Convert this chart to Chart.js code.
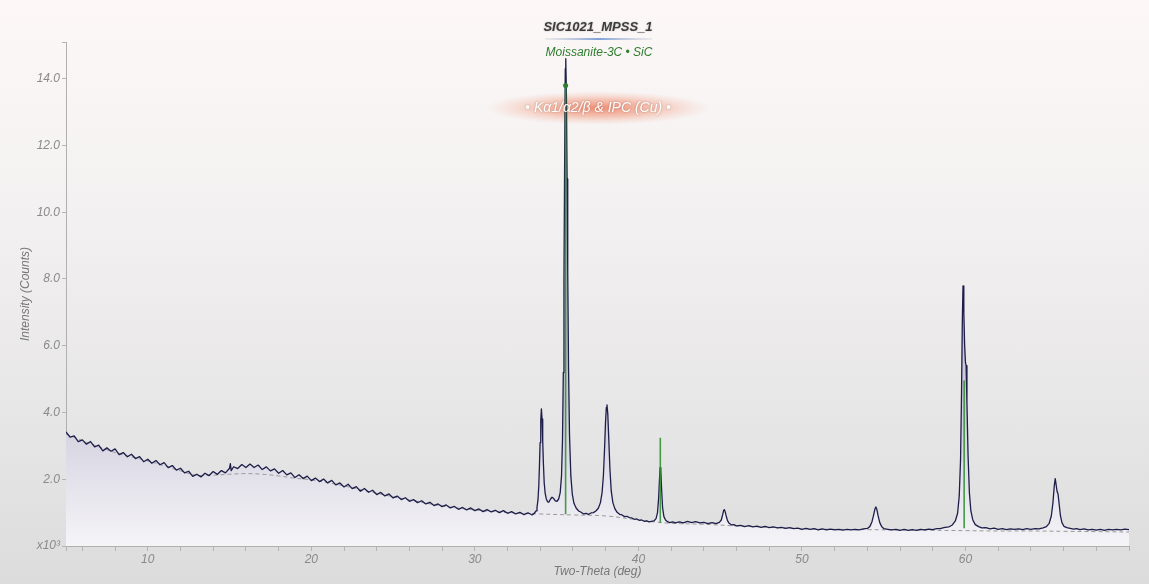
<!DOCTYPE html>
<html>
<head>
<meta charset="utf-8">
<script src="https://cdn.jsdelivr.net/npm/chart.js@4.4.0/dist/chart.umd.min.js"></script>
<style>
html, body { margin: 0; padding: 0; width: 1149px; height: 584px; overflow: hidden; }
body { background: linear-gradient(to bottom, #fdf8f7 0%, #f3f1f1 35%, #e6e5e5 75%, #dcdcdc 100%); }
#wrap { position: relative; width: 1149px; height: 584px; }
</style>
</head>
<body>
<div id="wrap"><canvas id="xrd" width="1149" height="584"></canvas></div>
<script>
const chartTitle = 'SIC1021_MPSS_1';
const phaseLabel = 'Moissanite-3C \u2022 SiC';
const sourceLabel = '\u2022 K\u03b11/\u03b12/\u03b2 & IPC (Cu) \u2022';

// measured pattern, [two-theta (deg), counts]
const observed = [
  [5.00,3420],[5.25,3260],[5.50,3300],[5.75,3130],[6.00,3180],[6.25,3050],[6.50,3130],[6.75,2970],
  [7.00,3020],[7.25,2850],[7.50,2940],[7.75,2840],[8.00,2910],[8.25,2740],[8.50,2800],[8.75,2675],
  [9.00,2750],[9.25,2620],[9.50,2680],[9.75,2525],[10.00,2600],[10.25,2480],[10.50,2560],[10.75,2435],
  [11.00,2500],[11.25,2350],[11.50,2410],[11.75,2275],[12.00,2330],[12.25,2190],[12.50,2240],[12.75,2085],
  [13.00,2150],[13.25,2070],[13.50,2180],[13.75,2110],[14.00,2230],[14.25,2145],[14.50,2260],[14.75,2190],
  [15.00,2330],[15.05,2470],[15.10,2260],[15.25,2375],[15.50,2320],[15.75,2440],[16.00,2350],[16.25,2455],
  [16.50,2350],[16.75,2425],[17.00,2290],[17.25,2370],[17.50,2250],[17.75,2310],[18.00,2180],[18.25,2260],
  [18.50,2130],[18.75,2190],[19.00,2050],[19.25,2135],[19.50,2020],[19.75,2095],[20.00,1960],[20.25,2035],
  [20.50,1930],[20.75,2005],[21.00,1890],[21.25,1965],[21.50,1830],[21.75,1890],[22.00,1770],[22.25,1850],
  [22.50,1720],[22.75,1780],[23.00,1640],[23.25,1725],[23.50,1610],[23.75,1670],[24.00,1540],[24.25,1605],
  [24.50,1500],[24.75,1560],[25.00,1440],[25.25,1495],[25.50,1390],[25.75,1445],[26.00,1340],[26.25,1390],
  [26.50,1300],[26.75,1355],[27.00,1260],[27.25,1310],[27.50,1210],[27.75,1260],[28.00,1180],[28.25,1230],
  [28.50,1140],[28.75,1185],[29.00,1100],[29.25,1155],[29.50,1080],[29.75,1140],[30.00,1060],[30.25,1110],
  [30.50,1030],[30.75,1090],[31.00,1020],[31.25,1070],[31.50,1000],[31.75,1060],[32.00,980],[32.25,1030],
  [32.50,960],[32.75,1010],[33.00,940],[33.25,995],[33.50,930],[33.65,985],[33.74,1050],[33.80,1150],
  [33.86,1380],[33.91,1800],[33.95,2400],[33.99,3100],[34.03,3750],[34.07,4110],[34.11,3800],[34.15,3150],
  [34.19,2500],[34.24,1900],[34.30,1580],[34.37,1410],[34.44,1330],[34.52,1310],[34.62,1400],[34.72,1460],
  [34.82,1420],[34.92,1350],[35.02,1340],[35.12,1400],[35.22,1600],[35.30,2100],[35.36,3200],[35.41,5200],
  [35.45,8000],[35.49,11500],[35.53,14300],[35.56,14600],[35.60,13500],[35.64,11000],[35.68,8200],[35.73,5300],
  [35.79,3300],[35.87,2100],[35.96,1550],[36.06,1280],[36.20,1130],
  [36.35,1050],[36.50,1010],[36.65,960],[36.80,980],[36.95,945],[37.10,990],[37.25,1000],[37.40,1050],
  [37.55,1130],[37.68,1300],[37.78,1600],[37.86,2100],[37.93,2900],[37.99,3700],[38.04,4150],[38.08,4230],
  [38.13,3950],[38.19,3200],[38.26,2300],[38.34,1650],[38.44,1300],[38.56,1120],[38.70,1010],[38.85,950],
  [39.00,930],[39.15,880],[39.30,890],[39.45,850],[39.60,840],[39.75,800],[39.90,810],[40.05,770],
  [40.20,780],[40.35,740],[40.50,750],[40.65,720],[40.80,740],[40.95,750],[41.08,820],[41.17,1000],
  [41.24,1450],[41.29,2000],[41.33,2350],[41.37,2250],[41.42,1700],[41.48,1150],[41.56,880],[41.66,780],
  [41.78,730],[41.92,700],[42.10,720],[42.25,690],[42.50,720],[42.75,690],[43.00,740],[43.25,700],
  [43.50,730],[43.75,690],[44.00,710],[44.25,670],[44.50,700],[44.75,670],[44.95,710],[45.07,780],
  [45.15,930],[45.21,1060],[45.25,1090],[45.30,1040],[45.37,900],[45.45,760],[45.55,680],[45.70,630],
  [45.85,640],[46.00,600],[46.25,620],[46.50,580],[46.75,610],[47.00,575],[47.25,595],[47.50,560],
  [47.75,585],[48.00,550],[48.25,575],[48.50,545],[48.75,560],[49.00,530],[49.25,550],[49.50,520],
  [49.75,535],[50.00,495],[50.25,525],[50.50,495],[50.75,520],[51.00,485],[51.25,510],[51.50,480],
  [51.75,505],[52.00,485],[52.25,500],[52.50,475],[52.75,500],[53.00,480],[53.25,495],[53.50,485],
  [53.75,510],[54.00,525],[54.15,580],[54.28,720],[54.38,920],[54.46,1100],[54.52,1170],[54.58,1100],
  [54.66,900],[54.76,700],[54.88,580],[55.02,520],[55.25,500],[55.50,480],[55.75,500],[56.00,470],
  [56.25,495],[56.50,470],[56.75,490],[57.00,470],[57.25,500],[57.50,480],[57.75,505],[58.00,490],
  [58.25,520],[58.50,525],[58.75,560],[59.00,575],[59.20,630],[59.38,750],[59.52,980],[59.62,1500],
  [59.70,2600],[59.76,4600],[59.81,6800],[59.85,7790],[59.90,7000],[59.95,6000],[60.00,5500],[60.04,5400],
  [60.09,4300],[60.16,2700],[60.24,1600],[60.33,1050],[60.45,780],[60.60,640],[60.80,580],[61.00,545],
  [61.25,550],[61.50,515],[61.75,535],[62.00,500],[62.25,520],[62.50,490],[62.75,515],[63.00,495],
  [63.25,515],[63.50,490],[63.75,520],[64.00,500],[64.25,520],[64.50,515],[64.75,545],[64.95,580],
  [65.12,680],[65.25,900],[65.35,1300],[65.43,1800],[65.49,2020],[65.54,1850],[65.60,1640],[65.66,1560],
  [65.73,1250],[65.81,900],[65.90,700],[66.02,590],[66.20,550],[66.40,530],[66.60,505],[66.80,520],
  [67.00,490],[67.25,510],[67.50,480],[67.75,500],[68.00,475],[68.25,495],[68.50,470],[68.75,495],
  [69.00,480],[69.25,500],[69.50,485],[69.75,505],[70.00,490]
];

// fitted background, [two-theta, counts]
const background = [
  [5,3350],[8,2800],[10,2550],[12,2250],[13,2120],[14,2120],[15,2150],[16,2170],[17,2150],[18,2100],
  [19,2030],[20,1980],[22,1800],[24,1580],[26,1380],[28,1200],[30,1080],[32,1000],[34,960],[36,930],
  [38,900],[40,780],[41,720],[42,680],[44,650],[46,600],[48,560],[50,520],[52,500],[54,490],[56,480],
  [58,470],[60,460],[62,450],[64,450],[66,440],[68,430],[70,420]
];

// Moissanite-3C reference sticks: [two-theta, base counts, top counts]
const refSticks = [
  [35.55, 950, 13800],
  [41.34, 700, 3240],
  [59.92, 530, 4960]
];

const yTicks = [0, 2000, 4000, 6000, 8000, 10000, 12000, 14000];
const xLabels = [10, 20, 30, 40, 50, 60];
const yTop = 15100;

const stickPoints = [];
refSticks.forEach(function (s) {
  stickPoints.push({ x: s[0], y: s[1] }, { x: s[0], y: s[2] }, { x: s[0], y: null });
});

const overlay = {
  id: 'overlay',
  beforeDatasetsDraw(chart) {
    const ctx = chart.ctx;
    ctx.save();
    ctx.translate(598, 108);
    ctx.scale(1, 0.15);
    const g = ctx.createRadialGradient(0, 0, 0, 0, 0, 112);
    g.addColorStop(0, 'rgba(236,115,85,0.8)');
    g.addColorStop(0.5, 'rgba(240,145,115,0.5)');
    g.addColorStop(1, 'rgba(245,180,160,0)');
    ctx.fillStyle = g;
    ctx.beginPath();
    ctx.arc(0, 0, 112, 0, Math.PI * 2);
    ctx.fill();
    ctx.restore();
  },
  afterDraw(chart) {
    const ctx = chart.ctx;
    ctx.save();
    ctx.textAlign = 'center';
    ctx.textBaseline = 'middle';
    ctx.font = 'italic bold 13px "Liberation Sans", Arial, sans-serif';
    ctx.shadowColor = 'rgba(0,0,0,0.25)';
    ctx.shadowBlur = 2;
    ctx.fillStyle = '#3c3c3c';
    ctx.fillText(chartTitle, 598, 27);
    ctx.shadowBlur = 0;
    const u = ctx.createLinearGradient(545, 0, 652, 0);
    u.addColorStop(0, 'rgba(150,160,180,0.2)');
    u.addColorStop(0.5, 'rgba(70,120,200,0.9)');
    u.addColorStop(1, 'rgba(150,160,180,0.2)');
    ctx.strokeStyle = u;
    ctx.lineWidth = 1.5;
    ctx.beginPath();
    ctx.moveTo(545, 39);
    ctx.lineTo(652, 39);
    ctx.stroke();
    ctx.font = 'italic 12px "Liberation Sans", Arial, sans-serif';
    ctx.fillStyle = '#2f7d2f';
    ctx.fillText(phaseLabel, 599, 53);
    ctx.font = 'italic 14px "Liberation Sans", Arial, sans-serif';
    ctx.shadowColor = 'rgba(120,60,40,0.5)';
    ctx.shadowBlur = 2;
    ctx.fillStyle = '#ffffff';
    ctx.fillText(sourceLabel, 598, 108);
    ctx.restore();
  }
};

const labelFont = { family: '"Liberation Sans", Arial, sans-serif', size: 12, style: 'italic' };

const chart = new Chart(document.getElementById('xrd').getContext('2d'), {
  type: 'line',
  data: {
    datasets: [
      {
        label: 'Moissanite-3C',
        data: stickPoints,
        order: 0,
        borderColor: 'rgba(50,145,50,0.9)',
        borderWidth: 1.6,
        spanGaps: false,
        fill: false,
        pointRadius: function (c) { return c.dataIndex === 1 ? 2.5 : 0; },
        pointBackgroundColor: '#2f7d2f',
        pointBorderWidth: 0
      },
      {
        label: chartTitle,
        data: observed.map(function (p) { return { x: p[0], y: p[1] }; }),
        order: 1,
        borderColor: '#1d1d4a',
        borderWidth: 1.3,
        borderJoinStyle: 'round',
        pointRadius: 0,
        tension: 0,
        fill: 'origin',
        backgroundColor: function (c) {
          const area = c.chart.chartArea;
          if (!area) return 'rgba(210,208,222,0.8)';
          const g = c.chart.ctx.createLinearGradient(0, area.top, 0, area.bottom);
          g.addColorStop(0, '#b0acc6');
          g.addColorStop(0.72, '#cfccdc');
          g.addColorStop(1, '#f5f4f7');
          return g;
        }
      },
      {
        label: 'Background',
        data: background.map(function (p) { return { x: p[0], y: p[1] }; }),
        order: 2,
        borderColor: '#9a9a9a',
        borderWidth: 1,
        borderDash: [4, 3],
        pointRadius: 0,
        tension: 0.4,
        fill: false
      }
    ]
  },
  options: {
    responsive: false,
    animation: false,
    devicePixelRatio: 1,
    layout: { padding: { left: 15, top: 42, right: 20, bottom: 0 } },
    plugins: {
      legend: { display: false },
      tooltip: { enabled: false },
      filler: { drawTime: 'beforeDatasetsDraw' }
    },
    scales: {
      x: {
        type: 'linear',
        min: 5,
        max: 70,
        afterFit: function (s) { s.height = 38; },
        ticks: {
          stepSize: 2,
          autoSkip: false,
          maxRotation: 0,
          padding: 1,
          color: '#8a8a8a',
          font: labelFont,
          callback: function (v) { return xLabels.indexOf(v) >= 0 ? String(v) : ''; }
        },
        grid: { drawOnChartArea: false, tickLength: 5, color: '#b5b5b5' },
        border: { color: '#b0b0b0' },
        title: {
          display: true,
          text: 'Two-Theta (deg)',
          color: '#777777',
          padding: { top: 0, bottom: 5 },
          font: labelFont
        }
      },
      y: {
        min: 0,
        max: yTop,
        afterFit: function (s) { s.width = 51; },
        afterBuildTicks: function (s) {
          s.ticks = yTicks.concat([yTop]).map(function (v) { return { value: v }; });
        },
        ticks: {
          padding: 2,
          color: '#8a8a8a',
          font: labelFont,
          callback: function (v) {
            if (v === 0) return 'x10\u00b3';
            if (yTicks.indexOf(v) >= 0) return (v / 1000).toFixed(1);
            return '';
          }
        },
        grid: { drawOnChartArea: false, tickLength: 4, color: '#b5b5b5' },
        border: { color: '#b0b0b0' },
        title: {
          display: true,
          text: 'Intensity (Counts)',
          color: '#777777',
          padding: { top: 3, bottom: 0 },
          font: labelFont
        }
      }
    }
  },
  plugins: [overlay]
});
</script>
</body>
</html>
